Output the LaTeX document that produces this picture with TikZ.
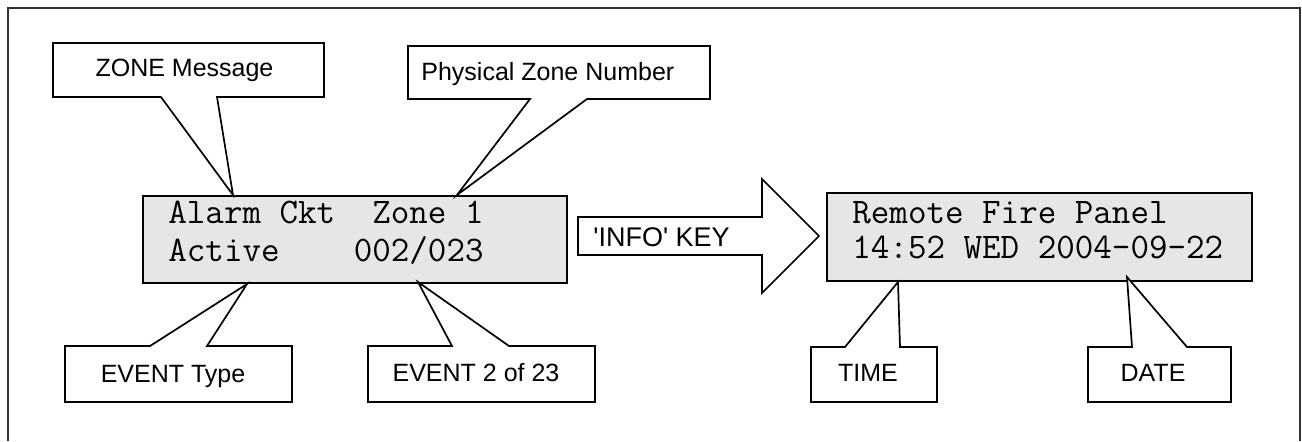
\documentclass[tikz,border=0pt]{standalone}
\usepackage{fontspec}
\setmainfont{Liberation Sans}
\definecolor{lcdgray}{HTML}{E6E6E6}
\definecolor{framegray}{HTML}{333333}
\begin{document}
\begin{tikzpicture}[x=0.5pt,y=-0.5pt,
  frame/.style={draw=framegray, line width=1pt},
  callout/.style={draw=black, line width=0.85pt, fill=white, line join=miter},
  lcdbox/.style={draw=black, line width=1pt, fill=lcdgray, inner sep=0pt},
  lcdtext/.style={font=\ttfamily\fontsize{18}{20}\selectfont, anchor=base west, inner sep=0pt},
  lbl/.style={font=\fontsize{12.5}{14}\selectfont, anchor=base, inner sep=0pt},
  keytext/.style={font=\fontsize{13.5}{16}\selectfont, anchor=base west, inner sep=0pt},
]
\useasboundingbox (0,0) rectangle (1302,441);
\draw[frame] (8,441) -- (8,8) -- (1300,8) -- (1300,441);

% displays
\node[lcdbox, minimum width=212pt, minimum height=43.5pt] (lcd1) at (355,239.5) {};
\node[lcdbox, minimum width=212.5pt, minimum height=44pt] (lcd2) at (1039.5,237) {};
\node[lcdtext] (l1a) at (168,223) {Alarm~Ckt~~Zone~1};
\node[lcdtext] (l1b) at (168,261) {Active~~~~002/023};
\node[lcdtext] (l2a) at (852,223) {Remote~Fire~Panel};
\node[lcdtext] (l2b) at (852,258) {14:52~WED~2004-09-22};

% tips
\coordinate (tipZone) at (233,195);
\coordinate (tipPhys) at (457,195);
\coordinate (tipType) at (247,284);
\coordinate (tipEvent) at (418,282);
\coordinate (tipTime) at (898,282);
\coordinate (tipDate) at (1127,277);

% callouts
\draw[callout] (53,43) -- (324,43) -- (324,97) -- (217,97) -- (tipZone) -- (161,97) -- (53,97) -- cycle;
\draw[callout] (408,46) -- (710,46) -- (710,99) -- (587,99) -- (tipPhys) -- (530,99) -- (408,99) -- cycle;
\draw[callout] (65,402) -- (65,346) -- (150,346) -- (tipType) -- (207,346) -- (292,346) -- (292,402) -- cycle;
\draw[callout] (368,402) -- (368,346) -- (452,346) -- (tipEvent) -- (509,346) -- (595,346) -- (595,402) -- cycle;
\draw[callout] (811,402) -- (811,347) -- (845,347) -- (tipTime) -- (900,347) -- (937,347) -- (937,402) -- cycle;
\draw[callout] (1088,402) -- (1088,347) -- (1132,347) -- (tipDate) -- (1187,347) -- (1231,347) -- (1231,402) -- cycle;

\node[lbl] (zoneMsg) at (184.5,76) {ZONE Message};
\node[lbl, anchor=base west] (physZone) at (421,80) {Physical Zone Number};
\node[lbl] (evType) at (173,382) {EVENT Type};
\node[lbl] (evNum) at (476,381) {EVENT 2 of 23};
\node[lbl] (timeLbl) at (868,381) {TIME};
\node[lbl] (dateLbl) at (1153,381) {DATE};

% INFO key arrow
\draw[callout] (578,217) -- (762,217) -- (762,179) -- (819,236) -- (762,293) -- (762,255) -- (578,255) -- cycle;
\node[keytext] (infoKey) at (593,246) {\textquotesingle INFO\textquotesingle\ KEY};
\end{tikzpicture}
\end{document}
